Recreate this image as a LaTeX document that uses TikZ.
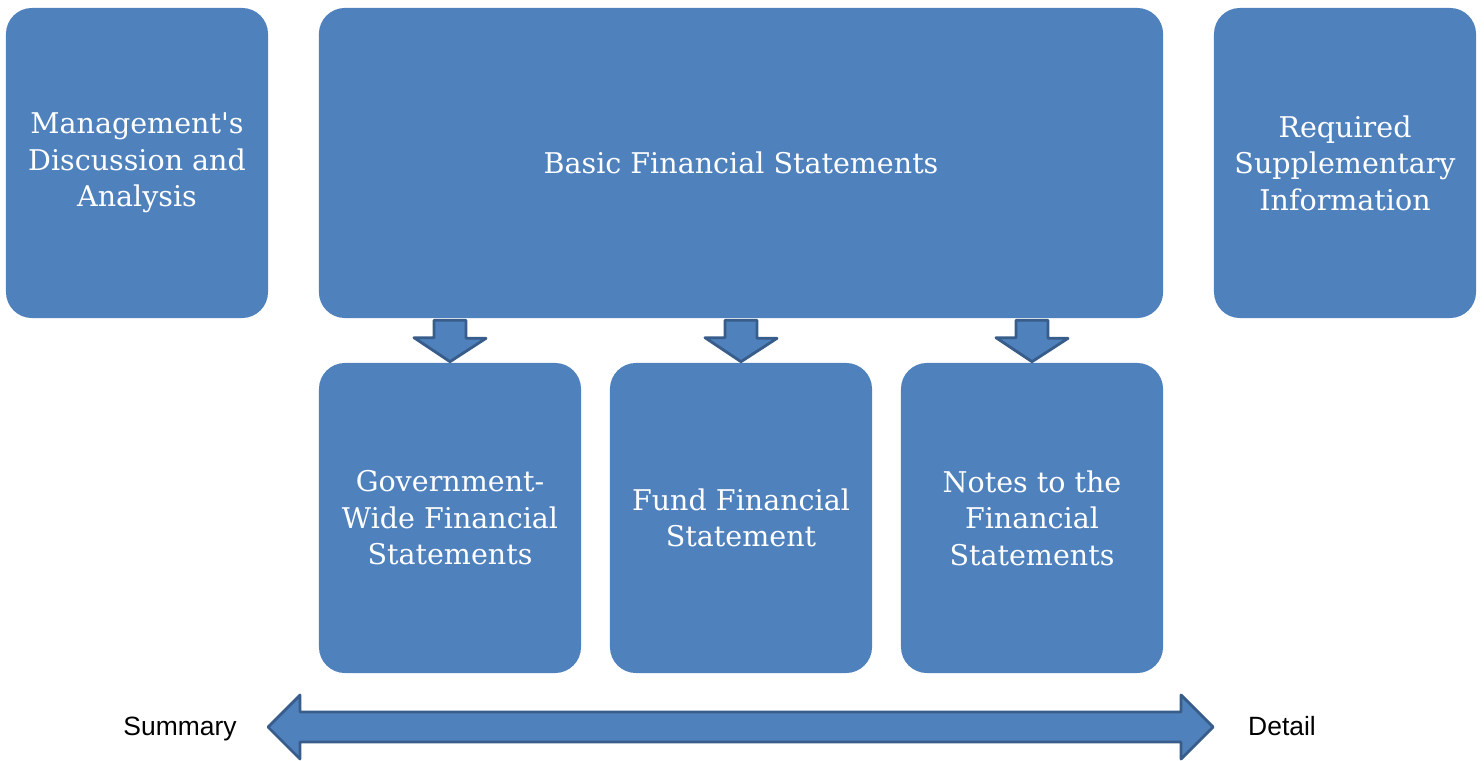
\documentclass[tikz,border=0pt]{standalone}
\usepackage{fontspec}
\setmainfont{DejaVu Serif}
\newfontfamily\labelfont{Liberation Sans}
\usepackage{xcolor}
\usetikzlibrary{calc}
\definecolor{boxblue}{RGB}{79,129,189}
\definecolor{edgeblue}{RGB}{56,93,138}

\begin{document}
\begin{tikzpicture}[
    x=0.025cm, y=-0.025cm,
    block/.style={rectangle, fill=boxblue, rounded corners=0.65cm, minimum width=6.55cm, minimum height=7.75cm, align=center, text=white, font=\fontsize{20.3}{26}\selectfont, inner sep=0pt},
    wideblock/.style={block, minimum width=21.1cm},
    blockarrow/.style={fill=boxblue, draw=edgeblue, line width=2pt, line join=round},
    side/.style={font=\labelfont\fontsize{18.8}{22}\selectfont, inner sep=0pt, anchor=base}
]
    \useasboundingbox (0,0) rectangle (1484,761);

    \node[block] (mda) at (137,163) {Management\textquotesingle s\\Discussion and\\Analysis};
    \node[wideblock] (basic) at (741,163) {Basic Financial Statements};
    \node[block] (rsi) at (1345,163) {Required\\Supplementary\\Information};

    \node[block] (gov) at (450,518) {Government-\\Wide Financial\\Statements};
    \node[block] (fund) at (741,518) {Fund Financial\\Statement};
    \node[block] (notes) at (1032,518) {Notes to the\\Financial\\Statements};

    % down arrows
    \foreach \n in {gov,fund,notes}
        \draw[blockarrow] ($(basic.south -| \n.north)+(-16,2)$) -- ++(32,0) -- ++(0,18) -- ++(20,0)
            -- ($(\n.north)+(0,-1)$) -- ++(-36,-24) -- ++(20,0) -- cycle;

    % summary / detail
    \node[side] (summary) at (180,735) {Summary};
    \node[side] (detail) at (1282,735) {Detail};
    \coordinate (left) at ($(summary.base)+(88,-8)$);
    \coordinate (right) at ($(detail.base)+(-69,-8)$);
    \draw[blockarrow] (left) -- ++(32,-32) -- ++(0,17) -- ($(right)+(-32,-15)$) -- ++(0,-17)
        -- (right) -- ++(-32,32) -- ++(0,-17) -- ($(left)+(32,15)$) -- ++(0,17) -- cycle;
\end{tikzpicture}
\end{document}
